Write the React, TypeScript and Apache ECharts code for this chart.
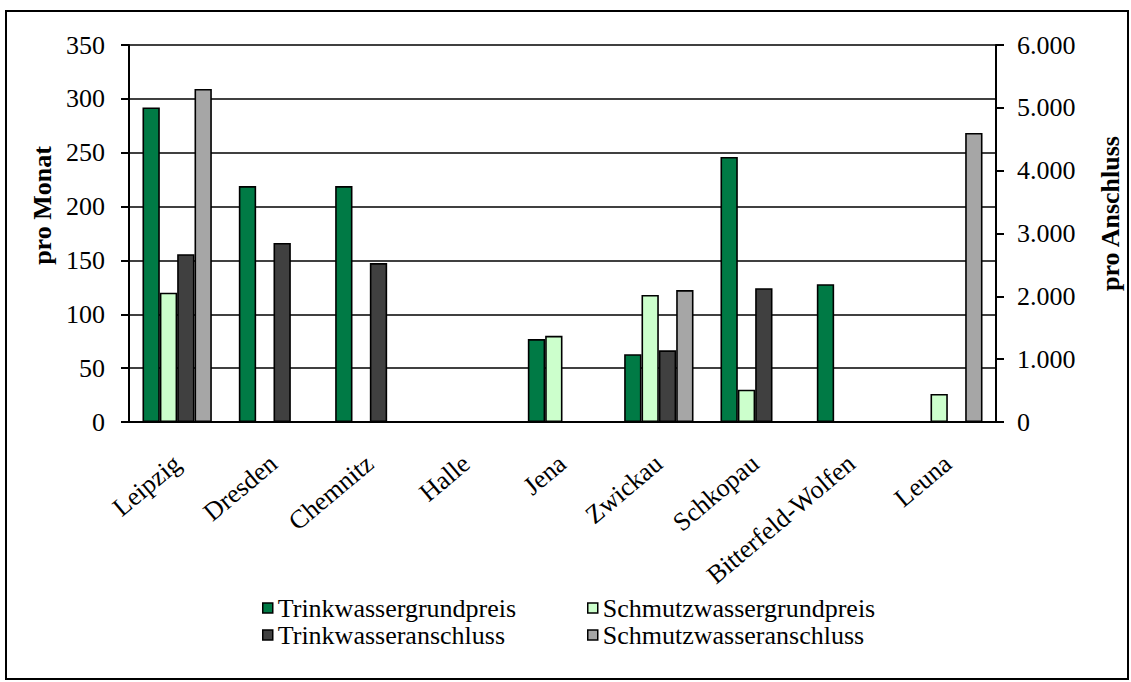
import React, { useEffect, useRef } from "react";
import * as echarts from "echarts";

const categories = ["Leipzig", "Dresden", "Chemnitz", "Halle", "Jena", "Zwickau", "Schkopau", "Bitterfeld-Wolfen", "Leuna"];
const trinkwasserGrundpreis = [292, 219, 219, null, 77, 63, 246, 128, null];
const schmutzwasserGrundpreis = [120, null, null, null, 80, 118, 30, null, 26];
const trinkwasserAnschluss = [2670, 2850, 2530, null, null, 1140, 2130, null, null];
const schmutzwasserAnschluss = [5300, null, null, null, null, 2100, null, null, 4600];

const leftTicks = { min: 0, max: 350, interval: 50 };
const rightTicks = { min: 0, max: 6000, interval: 1000 };

const FONT = "Liberation Serif";

function fmtDe(v: number) {
  return String(v).replace(/\B(?=(\d{3})+(?!\d))/g, ".");
}

export default function App() {
  const ref = useRef<HTMLDivElement>(null);
  useEffect(() => {
    if (!ref.current) return;
    const chart = echarts.init(ref.current, undefined, { renderer: "svg" });
    const barBorder = { borderColor: "#000", borderWidth: 1.6 };
    const legendBase = {
      orient: "vertical",
      top: 590,
      icon: "rect",
      itemWidth: 10,
      itemHeight: 10,
      itemGap: 1,
      selectedMode: false,
      itemStyle: { borderColor: "#000", borderWidth: 1.5 },
      textStyle: { fontFamily: FONT, fontSize: 26, color: "#000" },
    };
    chart.setOption({
      animation: false,
      backgroundColor: "#fff",
      textStyle: { fontFamily: FONT },
      graphic: [
        {
          type: "rect",
          shape: { x: 6, y: 11, width: 1122, height: 668 },
          style: { fill: "none", stroke: "#000", lineWidth: 2 },
          silent: true,
        },
      ],
      grid: { left: 129, right: 130, top: 45, bottom: 260 },
      legend: [
        { ...legendBase, left: 257, data: ["Trinkwassergrundpreis", "Trinkwasseranschluss"] },
        { ...legendBase, left: 582, data: ["Schmutzwassergrundpreis", "Schmutzwasseranschluss"] },
      ],
      xAxis: {
        type: "category",
        data: categories,
        axisLine: { lineStyle: { color: "#000", width: 2 } },
        axisTick: { length: 7, lineStyle: { color: "#000", width: 2 } },
        axisLabel: {
          rotate: 40,
          interval: 0,
          margin: 38,
          fontFamily: FONT,
          fontSize: 26,
          color: "#000",
        },
      },
      yAxis: [
        {
          type: "value",
          ...leftTicks,
          name: "pro Monat",
          nameLocation: "middle",
          nameGap: 74,
          nameRotate: 90,
          nameTextStyle: { fontFamily: FONT, fontSize: 26, fontWeight: "bold", color: "#000", padding: [0, 0, 0, 56] },
          axisLine: { show: true, lineStyle: { color: "#000", width: 2 } },
          axisTick: { show: true, length: 8, lineStyle: { color: "#000", width: 2 } },
          axisLabel: { margin: 24, fontFamily: FONT, fontSize: 26, color: "#000" },
          splitLine: { show: true, lineStyle: { color: "#000", width: 1.5 } },
        },
        {
          type: "value",
          ...rightTicks,
          position: "right",
          name: "pro Anschluss",
          nameLocation: "middle",
          nameGap: 101,
          nameRotate: 90,
          nameTextStyle: { fontFamily: FONT, fontSize: 26, fontWeight: "bold", color: "#000", padding: [0, 0, 0, 40] },
          axisLine: { show: true, lineStyle: { color: "#000", width: 2 } },
          axisTick: { show: true, length: 8, lineStyle: { color: "#000", width: 2 } },
          axisLabel: { margin: 21, fontFamily: FONT, fontSize: 26, color: "#000", formatter: (v: number) => fmtDe(v) },
          splitLine: { show: false },
        },
      ],
      series: [
        {
          name: "Trinkwassergrundpreis",
          type: "bar",
          yAxisIndex: 0,
          data: trinkwasserGrundpreis,
          barGap: "0%",
          barCategoryGap: "28%",
          itemStyle: { color: "#007A45", ...barBorder },
        },
        {
          name: "Schmutzwassergrundpreis",
          type: "bar",
          yAxisIndex: 0,
          data: schmutzwasserGrundpreis,
          barGap: "0%",
          barCategoryGap: "28%",
          itemStyle: { color: "#CCFFCC", ...barBorder },
        },
        {
          name: "Trinkwasseranschluss",
          type: "bar",
          yAxisIndex: 1,
          data: trinkwasserAnschluss,
          barGap: "0%",
          barCategoryGap: "28%",
          itemStyle: { color: "#404040", ...barBorder },
        },
        {
          name: "Schmutzwasseranschluss",
          type: "bar",
          yAxisIndex: 1,
          data: schmutzwasserAnschluss,
          barGap: "0%",
          barCategoryGap: "28%",
          itemStyle: { color: "#A6A6A6", ...barBorder },
        },
      ],
    });
    return () => chart.dispose();
  }, []);
  return (
    <div
      ref={ref}
      style={{ position: "fixed", left: 0, top: 0, width: 1131, height: 682, background: "#fff" }}
    />
  );
}
